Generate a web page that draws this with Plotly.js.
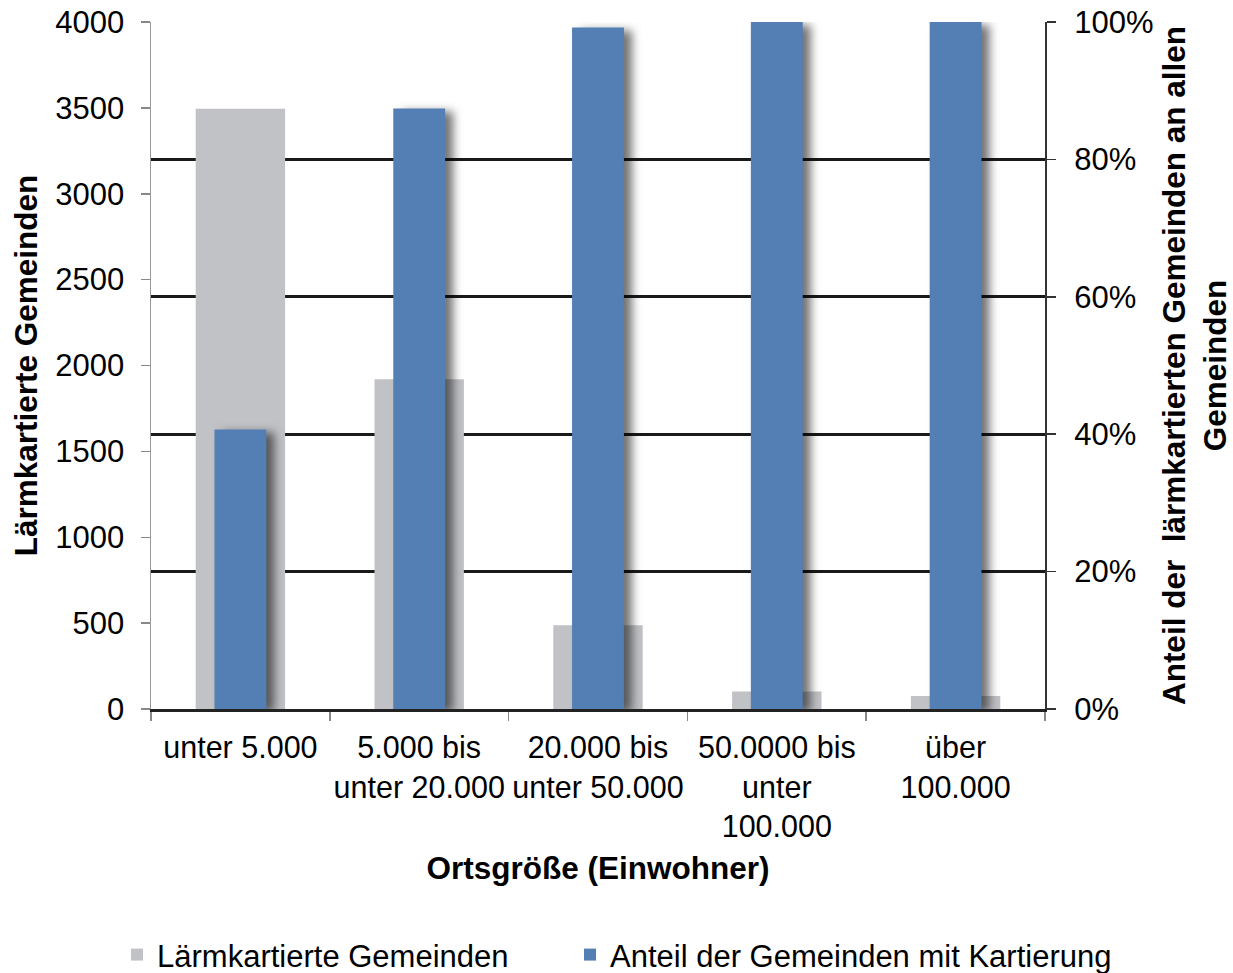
<!DOCTYPE html>
<html>
<head>
<meta charset="utf-8">
<script src="https://cdn.plot.ly/plotly-3.0.1.min.js"></script>
<style>
html,body{margin:0;padding:0;background:#fff;}
#chart{width:1233px;height:973px;}
</style>
</head>
<body>
<div id="chart"></div>
<script>
var categories = ["unter 5.000", "5.000 bis<br>unter 20.000", "20.000 bis<br>unter 50.000", "50.0000 bis<br>unter<br>100.000", "über<br>100.000"];
var kartierteGemeinden = [3495, 1920, 488, 102, 75];
var anteilKartierung = [0.407, 0.874, 0.992, 1.0, 1.0];
var leftTicks = [0, 500, 1000, 1500, 2000, 2500, 3000, 3500, 4000];

var FONT = "Liberation Sans, Arial, sans-serif";

var traces = [
  {
    type: "bar",
    name: "Lärmkartierte Gemeinden",
    x: categories,
    y: kartierteGemeinden,
    yaxis: "y",
    width: 0.5,
    legend: "legend",
    marker: {color: "#C1C2C6", line: {width: 0}},
    hoverinfo: "x+y"
  },
  {
    type: "bar",
    name: "Anteil der Gemeinden mit Kartierung",
    x: categories,
    y: anteilKartierung,
    yaxis: "y2",
    width: 0.29,
    legend: "legend2",
    marker: {color: "#537FB5", line: {width: 0}},
    hoverinfo: "x+y"
  }
];

var layout = {
  width: 1233,
  height: 973,
  paper_bgcolor: "#fff",
  plot_bgcolor: "#fff",
  barmode: "overlay",
  showlegend: true,
  margin: {l: 151, r: 188, t: 22, b: 264, autoexpand: false},
  font: {family: FONT, size: 31, color: "#000"},
  xaxis: {
    type: "category",
    tickson: "boundaries",
    tickangle: 0,
    ticks: "outside",
    ticklen: 9,
    tickwidth: 1.5,
    tickcolor: "#888",
    showline: true,
    linecolor: "#222",
    linewidth: 2.5,
    showgrid: false,
    zeroline: false,
    ticklabelstandoff: 10,
    tickfont: {family: FONT, size: 30.5, color: "#000"},
    title: {text: "Ortsgröße (Einwohner)", font: {family: FONT, size: 31.5, color: "#000", weight: "bold"}, standoff: 15}
  },
  yaxis: {
    range: [0, 4000],
    tickvals: leftTicks,
    ticks: "outside",
    ticklen: 9,
    tickwidth: 1.5,
    tickcolor: "#888",
    showline: true,
    linecolor: "#999",
    linewidth: 1.5,
    showgrid: false,
    zeroline: false,
    ticklabelstandoff: 10,
    tickfont: {family: FONT, size: 31, color: "#000"},
    title: {text: "Lärmkartierte Gemeinden", font: {family: FONT, size: 31.5, color: "#000", weight: "bold"}, standoff: 8}
  },
  yaxis2: {
    overlaying: "y",
    side: "right",
    range: [0, 1],
    dtick: 0.2,
    tickformat: ".0%",
    ticks: "outside",
    ticklen: 9,
    tickwidth: 1.5,
    tickcolor: "#333",
    showline: true,
    linecolor: "#333",
    linewidth: 2,
    showgrid: true,
    gridcolor: "#1a1a1a",
    gridwidth: 3,
    zeroline: false,
    ticklabelstandoff: 12,
    tickfont: {family: FONT, size: 31, color: "#000"},
    title: {text: "Anteil der \u00a0lärmkartierten Gemeinden an allen<br>Gemeinden", font: {family: FONT, size: 31.5, color: "#000", weight: "bold"}, standoff: 36}
  },
  legend: {
    orientation: "h",
    x: -0.038,
    xanchor: "left",
    y: -0.358,
    yanchor: "middle",
    font: {family: FONT, size: 31, color: "#000"},
    itemwidth: 30,
    bgcolor: "rgba(0,0,0,0)"
  },
  legend2: {
    orientation: "h",
    x: 0.4687,
    xanchor: "left",
    y: -0.358,
    yanchor: "middle",
    font: {family: FONT, size: 31, color: "#000"},
    itemwidth: 30,
    bgcolor: "rgba(0,0,0,0)"
  }
};

Plotly.newPlot("chart", traces, layout, {displayModeBar: false, staticPlot: true}).then(function(gd){
  var paths = gd.querySelectorAll(".barlayer .trace.bars path");
  paths.forEach(function(p){
    var f = p.style.fill || "";
    if (f.indexOf("83, 127, 181") >= 0) {
      p.style.filter = "drop-shadow(8px 3px 5px rgba(0,0,0,0.55))";
    }
  });
});
</script>
</body>
</html>
